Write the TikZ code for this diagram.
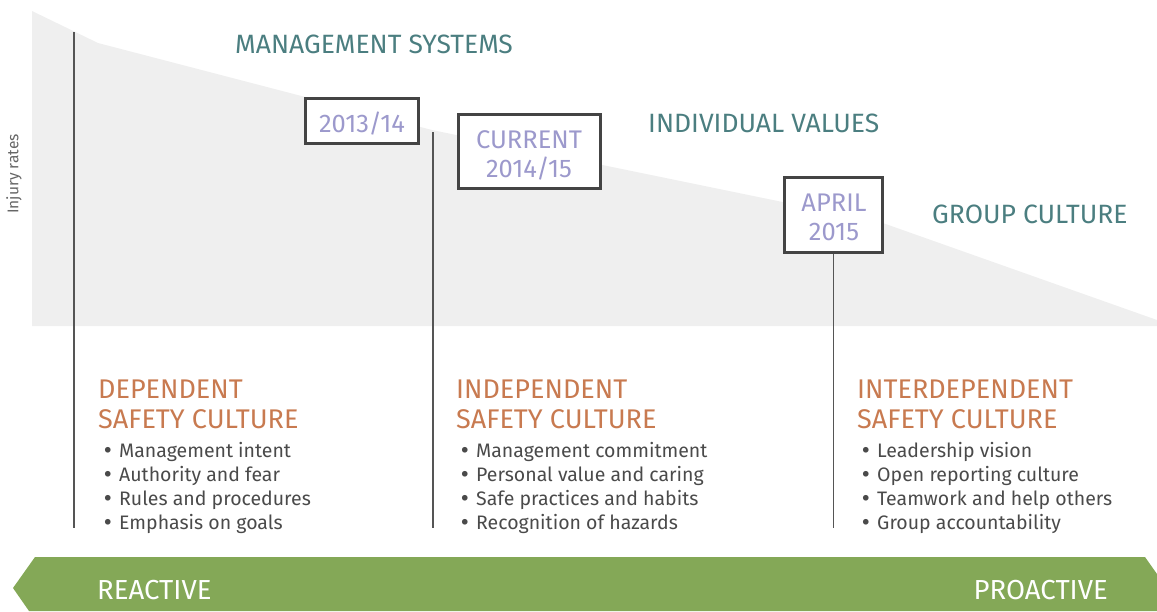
\documentclass[tikz,border=0pt]{standalone}
\usepackage{fontspec}
\setmainfont{Fira Sans}
\newfontfamily\dejavu{DejaVu Sans}
\definecolor{teal}{HTML}{4B7E80}
\definecolor{lav}{HTML}{9C99CC}
\definecolor{orng}{HTML}{C87A50}
\definecolor{txtgray}{HTML}{4A4A4A}
\definecolor{linegray}{HTML}{555555}
\definecolor{boxgray}{HTML}{444444}
\definecolor{bgfill}{HTML}{EFEFEF}
\definecolor{grn}{HTML}{84A857}
\tikzset{
  yearbox/.style={draw=boxgray, line width=3pt, fill=white, inner sep=0pt},
  boxtext/.style={text=lav, align=center, font=\fontsize{25.5}{28.5}\selectfont, inner sep=0pt, anchor=base},
  stagehead/.style={text=teal, font=\fontsize{26.5}{29}\selectfont, anchor=base west, inner sep=0pt},
  culthead/.style={text=orng, font=\fontsize{27}{29.5}\selectfont, anchor=base west, inner sep=0pt, align=left},
  bullets/.style={text=txtgray, font=\fontsize{19.5}{24}\selectfont, anchor=base west, inner sep=0pt, align=left},
  timeline/.style={draw=linegray, line width=1.3pt},
  bandtext/.style={text=white, font=\fontsize{27.5}{29}\selectfont, anchor=base west, inner sep=0pt}
}
\newcommand{\bul}{\makebox[17pt][l]{{\dejavu •}}}
\begin{document}
\begin{tikzpicture}[x=1pt,y=-1pt]
\useasboundingbox (0,0) rectangle (1157,611);
% grey injury-rate area
\fill[bgfill] (32,11) -- (98,43) -- (432,130) -- (880,222) -- (1157,320) -- (1157,326) -- (32,326) -- cycle;
% green band
\fill[grn] (35,557) -- (1145,557) -- (1157,574) -- (1157,611) -- (29,611) -- (13,588) -- cycle;
% axis label
\node[rotate=90, text=txtgray!85, font=\fontsize{15.5}{17}\selectfont, inner sep=0pt] (axis) at (14,174) {Injury rates};
% timeline coordinates
\coordinate (t1top) at (74,32);
\coordinate (t1bot) at (74,528);
\coordinate (t2top) at (433,132);
\coordinate (t2bot) at (433,528);
\coordinate (t3bot) at (833.5,528);
% boxes
\node[yearbox, minimum width=113pt, minimum height=45pt] (b1) at (361.5,120.5) {};
\node[yearbox, minimum width=142pt, minimum height=74pt] (b2) at (529,151.5) {};
\node[yearbox, minimum width=98pt, minimum height=75pt] (b3) at (833.5,214.5) {};
\node[boxtext] (b1t) at (362,132) {2013/14};
\node[boxtext] (b2t) at (529,177) {CURRENT\\2014/15};
\node[boxtext] (b3t) at (834,240) {APRIL\\2015};
% lines
\draw[timeline] (t1top) -- (t1bot);
\draw[timeline] (t2top) -- (t2bot);
\draw[timeline] (b3.south) -- (t3bot);
% stage labels
\node[stagehead] (s1) at (235,53) {MANAGEMENT SYSTEMS};
\node[stagehead] (s2) at (648,132) {INDIVIDUAL VALUES};
\node[stagehead] (s3) at (932,223) {GROUP CULTURE};
% culture headings (anchor on last baseline)
\node[culthead] (h1) at (98,428) {DEPENDENT\\SAFETY CULTURE};
\node[culthead] (h2) at (456,428) {INDEPENDENT\\SAFETY CULTURE};
\node[culthead] (h3) at (857,428) {INTERDEPENDENT\\SAFETY CULTURE};
% bullets (anchor on last baseline)
\node[bullets] (l1) at (102,529) {\bul Management intent\\\bul Authority and fear\\\bul Rules and procedures\\\bul Emphasis on goals};
\node[bullets] (l2) at (459,529) {\bul Management commitment\\\bul Personal value and caring\\\bul Safe practices and habits\\\bul Recognition of hazards};
\node[bullets] (l3) at (860,529) {\bul Leadership vision\\\bul Open reporting culture\\\bul Teamwork and help others\\\bul Group accountability};
% band labels
\node[bandtext] (r) at (97,599) {REACTIVE};
\node[bandtext, anchor=base east] (p) at (1108,599) {PROACTIVE};
\end{tikzpicture}
\end{document}
